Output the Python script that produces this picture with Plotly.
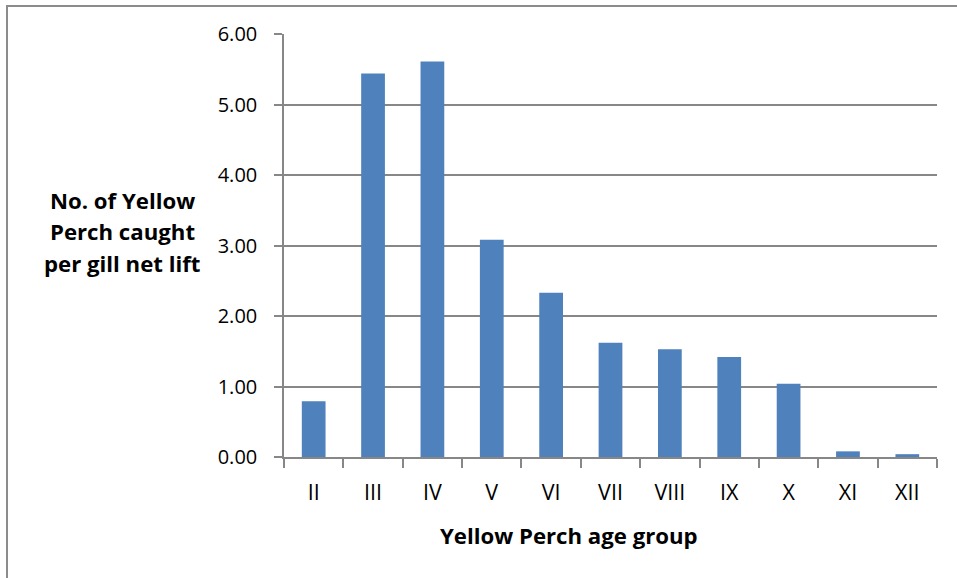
import plotly.graph_objects as go

age_groups = ["II", "III", "IV", "V", "VI", "VII", "VIII", "IX", "X", "XI", "XII"]
catch_per_lift = [0.79, 5.44, 5.61, 3.08, 2.33, 1.62, 1.53, 1.42, 1.04, 0.08, 0.04]
y_tick_values = [0, 1, 2, 3, 4, 5, 6]
y_tick_labels = ["0.00", "1.00", "2.00", "3.00", "4.00", "5.00", "6.00"]
x_title = "Yellow Perch age group"
y_title_lines = ["No. of Yellow", "Perch caught", "per gill net lift"]

W, H = 957, 578
L, R, T, B = 284, 20, 34, 121
pw, ph = W - L - R, H - T - B

def px_x(px):
    return (px - L) / pw

def px_y(py):
    return (H - B - py) / ph

grid = "#878787"
font_family = "Open Sans, Liberation Sans, sans-serif"

fig = go.Figure()
fig.add_trace(go.Bar(
    x=age_groups, y=catch_per_lift,
    marker=dict(color="#4F81BD", line=dict(width=0)),
))

annotations = [dict(
    text=f"<b>{x_title}</b>", xref="paper", yref="paper",
    x=px_x(569), y=px_y(535), showarrow=False,
    xanchor="center", yanchor="middle",
    font=dict(size=22.2, color="#000000", family=font_family),
)]
for line, cy in zip(y_title_lines, [200, 231.5, 263]):
    annotations.append(dict(
        text=f"<b>{line}</b>", xref="paper", yref="paper",
        x=px_x(122), y=px_y(cy), showarrow=False,
        xanchor="center", yanchor="middle",
        font=dict(size=22.2, color="#000000", family=font_family),
    ))

fig.update_layout(
    width=W, height=H,
    margin=dict(l=L, r=R, t=T, b=B, pad=0),
    paper_bgcolor="white", plot_bgcolor="white",
    showlegend=False,
    bargap=0.6,
    font=dict(family=font_family, color="#000000", size=21),
    annotations=annotations,
    shapes=[dict(
        type="path", xref="paper", yref="paper",
        path=f"M {px_x(7)} {px_y(H + 5)} L {px_x(7)} {px_y(6)} L {px_x(W + 5)} {px_y(6)}",
        line=dict(color="#8c8c8c", width=2),
    )],
)
fig.update_xaxes(
    type="category",
    showline=True, linecolor=grid, linewidth=1.5,
    ticks="outside", ticklen=9, tickcolor=grid, tickwidth=1.5,
    tickson="boundaries",
    showgrid=False,
    tickfont=dict(size=21.5, color="#000000", family=font_family),
    ticklabelstandoff=15,
)
fig.update_yaxes(
    range=[0, 6],
    tickvals=y_tick_values, ticktext=y_tick_labels,
    showline=True, linecolor=grid, linewidth=1.5,
    ticks="outside", ticklen=8, tickcolor=grid, tickwidth=1.5,
    showgrid=True, gridcolor=grid, gridwidth=1.5,
    zeroline=False,
    tickfont=dict(size=20, color="#000000", family=font_family),
    ticklabelstandoff=13,
)

fig.write_html(
    "out.html",
    config={"displayModeBar": False},
    post_script="document.body.style.margin='0px';",
)
